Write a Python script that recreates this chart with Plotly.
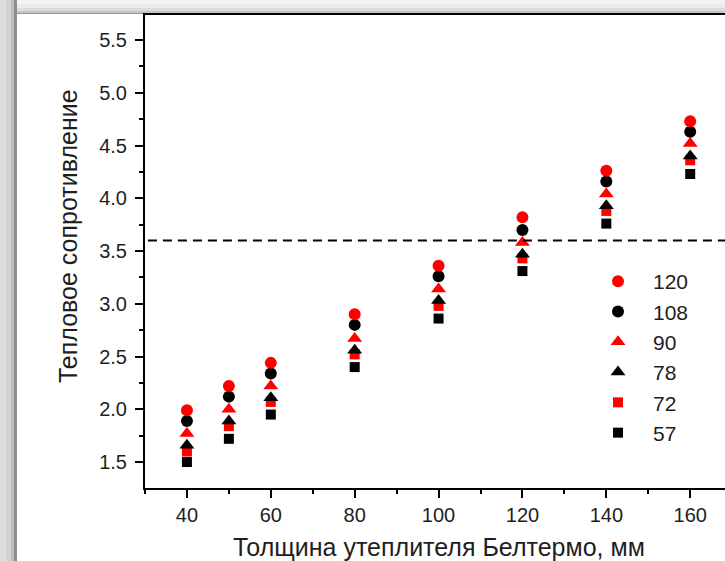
import plotly.graph_objects as go

# Insulation thickness, mm
thickness = [40, 50, 60, 80, 100, 120, 140, 160]

# Thermal resistance for each series (legend label -> values)
r_120 = [1.99, 2.22, 2.44, 2.90, 3.36, 3.82, 4.26, 4.73]
r_108 = [1.89, 2.12, 2.34, 2.80, 3.26, 3.70, 4.16, 4.63]
r_90 = [1.77, 2.00, 2.22, 2.67, 3.14, 3.58, 4.04, 4.52]
r_78 = [1.66, 1.89, 2.11, 2.56, 3.03, 3.47, 3.93, 4.40]
r_72 = [1.60, 1.84, 2.07, 2.52, 2.98, 3.43, 3.88, 4.36]
r_57 = [1.50, 1.72, 1.95, 2.40, 2.86, 3.31, 3.76, 4.23]

norm_level = 3.6

x_ticks = [40, 60, 80, 100, 120, 140, 160]
y_ticks = [1.5, 2.0, 2.5, 3.0, 3.5, 4.0, 4.5, 5.0, 5.5]

RED = "#ff0000"
BLACK = "#000000"
TEXT = "#1e1e1e"

series = [
    ("57", r_57, "square", BLACK, 10),
    ("72", r_72, "square", RED, 10),
    ("78", r_78, "triangle-up", BLACK, 13),
    ("90", r_90, "triangle-up", RED, 13),
    ("108", r_108, "circle", BLACK, 12),
    ("120", r_120, "circle", RED, 12),
]

W, H = 725, 561
ML, MR, MT, MB = 145, 0, 15, 73
PW, PH = W - ML - MR, H - MT - MB


def px_x(p):
    return (p - ML) / PW


def px_y(p):
    return (H - MB - p) / PH


fig = go.Figure()
for name, vals, sym, col, size in series:
    fig.add_trace(go.Scatter(
        x=thickness, y=vals, mode="markers", name=name,
        marker=dict(symbol=sym, color=col, size=size, line=dict(width=0)),
    ))

shapes = []
# page shadow along the top and left edges
top_bands = [(0, 4, "#f3f3f3"), (4, 8, "#eaeaea"), (8, 11, "#dcdcdc"),
             (11, 13, "#c4c4c4"), (13, 14, "#9a9a9a")]
for a, b, c in top_bands:
    shapes.append(dict(type="rect", xref="paper", yref="paper",
                       x0=px_x(0), x1=px_x(W), y0=px_y(b), y1=px_y(a),
                       fillcolor=c, line=dict(width=0), layer="below"))
left_bands = [(0, 6, "#dedede"), (6, 11, "#d2d2d2"), (11, 14, "#bdbdbd"),
              (14, 17, "#8e8e8e")]
for a, b, c in left_bands:
    shapes.append(dict(type="rect", xref="paper", yref="paper",
                       x0=px_x(a), x1=px_x(b), y0=px_y(H), y1=px_y(0),
                       fillcolor=c, line=dict(width=0), layer="below"))

# normative level
shapes.append(dict(type="line", xref="paper", yref="y", x0=0.005, x1=1,
                   y0=norm_level, y1=norm_level,
                   line=dict(color=BLACK, width=2, dash="9px,6px")))

font_family = "Liberation Sans, Arial, sans-serif"

fig.update_layout(
    width=W, height=H,
    margin=dict(l=ML, r=MR, t=MT, b=MB),
    paper_bgcolor="white", plot_bgcolor="white",
    font=dict(family=font_family, color=TEXT),
    shapes=shapes,
    showlegend=True,
    legend=dict(
        x=px_x(583), y=px_y(261), xanchor="left", yanchor="top",
        traceorder="reversed", bgcolor="rgba(0,0,0,0)",
        font=dict(size=21, family=font_family, color=TEXT),
        itemwidth=60,
    ),
    xaxis=dict(
        range=[30, 168.3], tickvals=x_ticks, ticktext=[str(v) for v in x_ticks],
        showgrid=False, zeroline=False,
        showline=True, linecolor=BLACK, linewidth=2, mirror=True,
        ticks="outside", ticklen=8, tickwidth=1.5, tickcolor=BLACK,
        tickfont=dict(size=20, family=font_family, color=TEXT),
        minor=dict(tickvals=[30, 50, 70, 90, 110, 130, 150], ticks="outside",
                   ticklen=4, tickwidth=1.5, tickcolor=BLACK),
    ),
    yaxis=dict(
        range=[1.254, 5.737], tickvals=y_ticks,
        ticktext=[f"{v:.1f}" for v in y_ticks],
        showgrid=False, zeroline=False,
        showline=True, linecolor=BLACK, linewidth=2,
        ticks="outside", ticklen=8, tickwidth=1.5, tickcolor=BLACK,
        ticklabelstandoff=4,
        tickfont=dict(size=20, family=font_family, color=TEXT),
        minor=dict(tickvals=[1.75, 2.25, 2.75, 3.25, 3.75, 4.25, 4.75, 5.25],
                   ticks="outside", ticklen=4, tickwidth=1.5, tickcolor=BLACK),
    ),
    annotations=[
        dict(text="Толщина утеплителя Белтермо, мм", xref="paper", yref="paper",
             x=px_x(439), y=px_y(547), xanchor="center", yanchor="middle",
             showarrow=False, font=dict(size=25, family=font_family, color=TEXT)),
        dict(text="Тепловое сопротивление", xref="paper", yref="paper",
             x=px_x(68), y=px_y(236), xanchor="center", yanchor="middle",
             textangle=-90, showarrow=False,
             font=dict(size=25, family=font_family, color=TEXT)),
    ],
)

fig.write_html("out.html")
